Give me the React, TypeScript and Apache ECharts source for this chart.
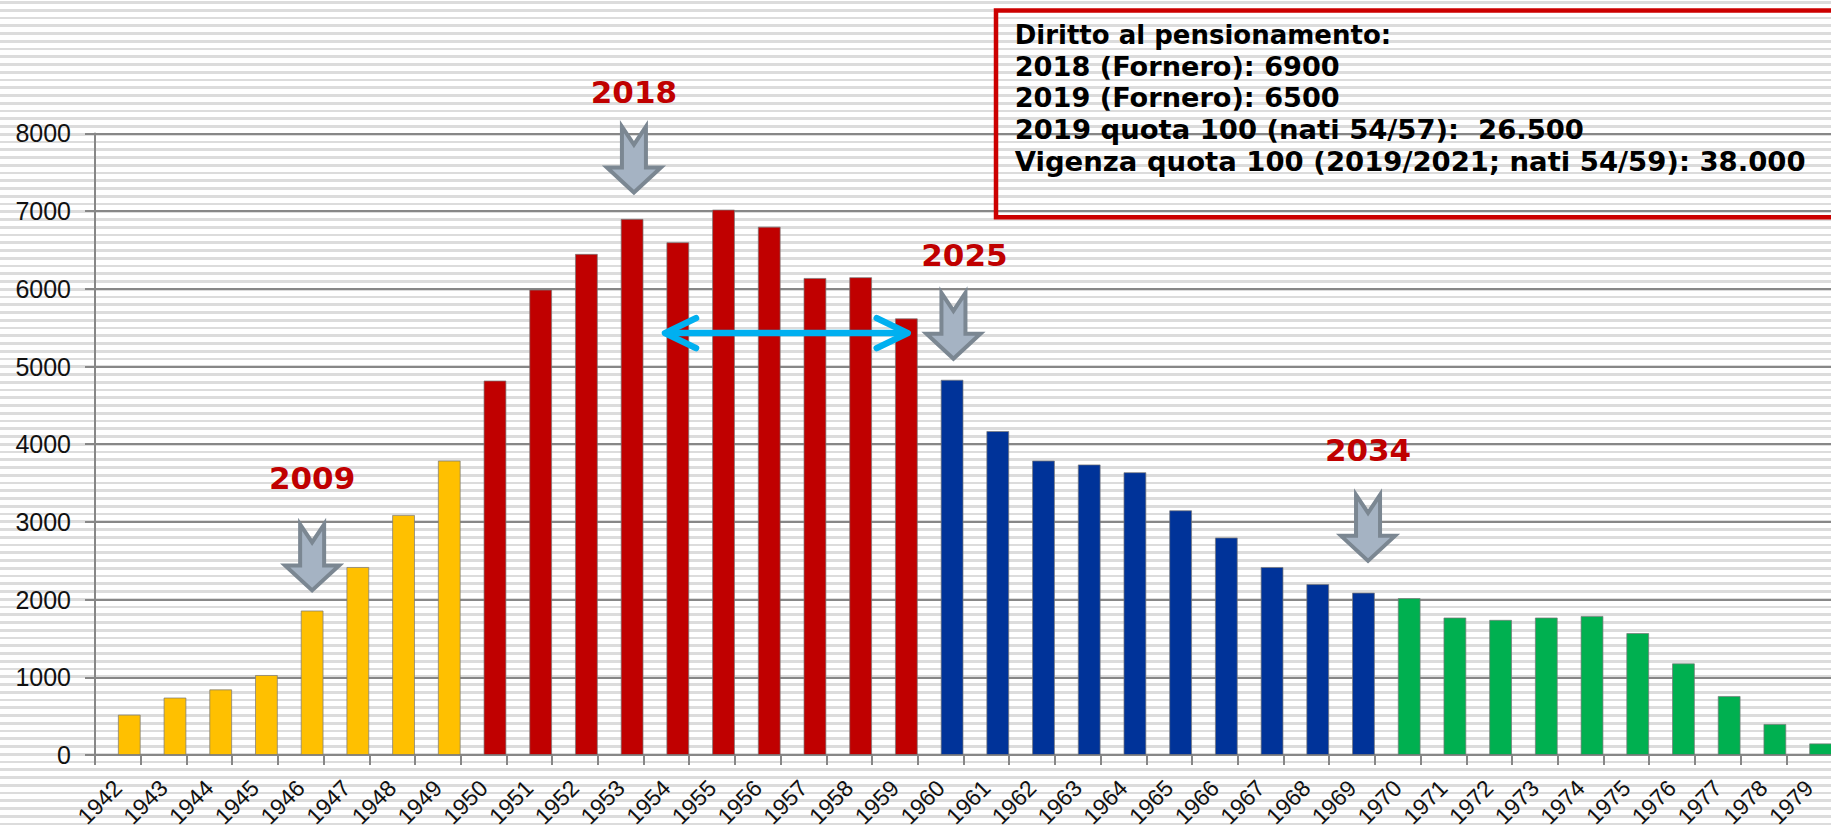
import React, { useEffect, useRef } from "react";
import * as echarts from "echarts";

// ---- data ----
const yellowYears = ["1942", "1943", "1944", "1945", "1946", "1947", "1948", "1949"];
const yellowValues = [520, 740, 845, 1030, 1860, 2420, 3090, 3790];
const redYears = ["1950", "1951", "1952", "1953", "1954", "1955", "1956", "1957", "1958", "1959"];
const redValues = [4820, 5990, 6450, 6900, 6600, 7020, 6800, 6140, 6150, 5620];
const blueYears = ["1960", "1961", "1962", "1963", "1964", "1965", "1966", "1967", "1968", "1969"];
const blueValues = [4830, 4170, 3790, 3740, 3640, 3150, 2800, 2420, 2200, 2090];
const greenYears = ["1970", "1971", "1972", "1973", "1974", "1975", "1976", "1977", "1978", "1979"];
const greenValues = [2020, 1770, 1740, 1770, 1790, 1570, 1180, 760, 400, 150];

const years = [...yellowYears, ...redYears, ...blueYears, ...greenYears];

const Y_MIN = 0;
const Y_MAX = 8000;
const Y_STEP = 1000;

// annotations (in data space)
const arrowYears = ["1946", "1953", "1960", "1969"];
const arrowTipValues = [2080, 7200, 5060, 2460];
const arrowShifts = [0.25, 0.29, 0.28, 0.35];
const arrowLabels = ["2009", "2018", "2025", "2034"];
const labelValues = [3570, 8530, 6440, 3930];
const labelShifts = [0.25, 0.29, 0.52, 0.35];

const spanYears = ["1954", "1959"];
const spanShifts = [-0.03, 0.28];
const spanValue = 5430;

const boxLines = [
  "Diritto al pensionamento:",
  "2018 (Fornero): 6900",
  "2019 (Fornero): 6500",
  "2019 quota 100 (nati 54/57):  26.500",
  "Vigenza quota 100 (2019/2021; nati 54/59): 38.000",
];
const boxLineStretch = [1.0, 1.045, 1.045, 1.055, 1.058];

const YELLOW = "#ffc000";
const RED = "#c00000";
const BLUE = "#003399";
const GREEN = "#00b050";
const GRID_GRAY = "#878787";

export default function App() {
  const ref = useRef<HTMLDivElement>(null);

  useEffect(() => {
    document.body.style.margin = "0";
    document.body.style.overflow = "hidden";
    const el = ref.current!;
    const chart = echarts.init(el, null, { renderer: "svg" });

    const mk = (vals: number[], color: string) =>
      vals.map((v) => ({ value: v, itemStyle: { color } }));
    const barData = [
      ...mk(yellowValues, YELLOW),
      ...mk(redValues, RED),
      ...mk(blueValues, BLUE),
      ...mk(greenValues, GREEN),
    ];

    chart.setOption({
      animation: false,
      backgroundColor: "transparent",
      grid: {
        left: 95,
        right: -1,
        top: 133.4,
        bottom: 74,
        containLabel: false,
        outerBoundsMode: "none",
      },
      xAxis: {
        type: "category",
        data: years,
        boundaryGap: true,
        axisLine: { lineStyle: { color: GRID_GRAY, width: 2 } },
        axisTick: { show: true, length: 10, interval: 0, lineStyle: { color: GRID_GRAY, width: 2 } },
        axisLabel: {
          interval: 0,
          rotate: 45,
          margin: 29,
          color: "#111",
          fontFamily: "Liberation Sans",
          fontSize: 23,
        },
      },
      yAxis: {
        type: "value",
        min: Y_MIN,
        max: Y_MAX,
        interval: Y_STEP,
        axisLine: { show: true, lineStyle: { color: GRID_GRAY, width: 2 } },
        axisTick: { show: true, length: 10, lineStyle: { color: GRID_GRAY, width: 2 } },
        splitLine: { show: true, lineStyle: { color: GRID_GRAY, width: 2 } },
        axisLabel: {
          margin: 24,
          color: "#111",
          fontFamily: "Liberation Sans",
          fontSize: 25,
          formatter: (v: number) => String(v),
        },
      },
      series: [
        {
          name: "spacer",
          type: "bar",
          data: years.map(() => "-"),
          barGap: "0%",
          barCategoryGap: "0%",
          silent: true,
        },
        {
          name: "Nati",
          type: "bar",
          data: barData,
          barGap: "0%",
          barCategoryGap: "0%",
          itemStyle: { borderColor: "rgba(120,120,120,0.7)", borderWidth: 1 },
        },
      ],
    });

    const toPx = (cat: string, val: number) =>
      chart.convertToPixel({ gridIndex: 0 }, [years.indexOf(cat), val]) as number[];
    const band = toPx(years[1], 0)[0] - toPx(years[0], 0)[0];
    const at = (cat: string, val: number, shift: number) => {
      const p = toPx(cat, val);
      return [p[0] + shift * band, p[1]];
    };

    const elements: any[] = [];

    // block arrows
    arrowYears.forEach((yr, i) => {
      const [x, y] = at(yr, arrowTipValues[i], arrowShifts[i]);
      elements.push({
        type: "polygon",
        x,
        y,
        z: 100,
        shape: {
          points: [
            [-12, -69],
            [0, -51],
            [12, -69],
            [12, -28],
            [27, -28],
            [0, -3],
            [-27, -28],
            [-12, -28],
          ],
        },
        style: { fill: "#a5b3c3", stroke: "#7b8792", lineWidth: 4, lineJoin: "miter" },
      });
      const [lx, ly] = at(yr, labelValues[i], labelShifts[i]);
      elements.push({
        type: "text",
        x: lx,
        y: ly,
        z: 100,
        style: {
          text: arrowLabels[i],
          fill: RED,
          fontFamily: "DejaVu Sans",
          fontWeight: "bold",
          fontSize: 31,
          align: "center",
          verticalAlign: "middle",
          textAlign: "center",
          textVerticalAlign: "middle",
        },
      });
    });

    // double-headed cyan arrow
    const [x1, yy] = at(spanYears[0], spanValue, spanShifts[0]);
    const [x2] = at(spanYears[1], spanValue, spanShifts[1]);
    const cyan = { stroke: "#00b0f0", lineWidth: 6.5, lineCap: "round", lineJoin: "round", fill: null };
    elements.push({ type: "line", z: 101, shape: { x1: x1 + 3, y1: yy, x2: x2 - 3, y2: yy }, style: cyan });
    elements.push({
      type: "polyline",
      z: 101,
      shape: { points: [[x1 + 31, yy - 15], [x1, yy], [x1 + 31, yy + 15]] },
      style: cyan,
    });
    elements.push({
      type: "polyline",
      z: 101,
      shape: { points: [[x2 - 31, yy - 15], [x2, yy], [x2 - 31, yy + 15]] },
      style: cyan,
    });

    // info box
    elements.push({
      type: "rect",
      z: 100,
      shape: { x: 996, y: 10.5, width: 900, height: 206.8 },
      style: { fill: null, stroke: "#cc0000", lineWidth: 4.5 },
    });
    boxLines.forEach((t, i) => {
      elements.push({
        type: "text",
        z: 100,
        x: 1014.7,
        y: 34.5 + 31.8 * i,
        scaleX: boxLineStretch[i],
        style: {
          text: t,
          fill: "#000",
          fontFamily: "DejaVu Sans",
          fontWeight: "bold",
          fontSize: 26,
          align: "left",
          verticalAlign: "middle",
          textAlign: "left",
          textVerticalAlign: "middle",
        },
      });
    });

    chart.setOption({ graphic: { elements } });

    return () => chart.dispose();
  }, []);

  return (
    <div
      ref={ref}
      style={{
        width: 1831,
        height: 829,
        background:
          "repeating-linear-gradient(to bottom, #ffffff 0px, #ffffff 1px, #dcdcdc 1px, #dcdcdc 3.8px, #ffffff 3.8px, #ffffff 7.75px)",
      }}
    />
  );
}
